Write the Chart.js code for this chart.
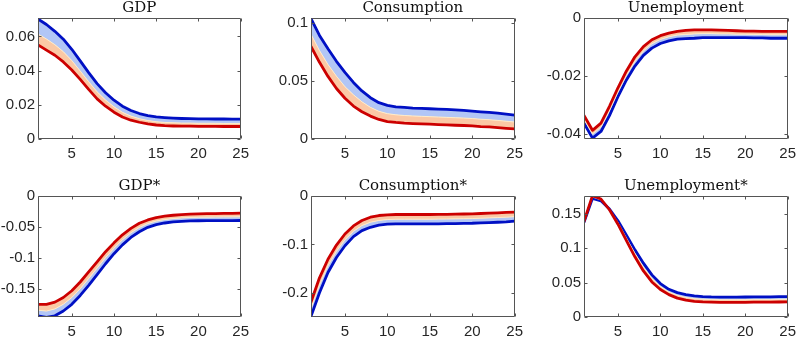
<!DOCTYPE html>
<html>
<head>
<meta charset="utf-8">
<script src="https://cdn.jsdelivr.net/npm/chart.js@4.4.0/dist/chart.umd.min.js"></script>
<style>
  html, body { margin: 0; padding: 0; background: #fff; overflow: hidden; }
  #wrap { position: relative; width: 800px; height: 337px; overflow: hidden; }
  .panel { position: absolute; }
</style>
</head>
<body>
<div id="wrap"></div>
<script>
// HORIZON AND TICKS
const horizon = [1,2,3,4,5,6,7,8,9,10,11,12,13,14,15,16,17,18,19,20,21,22,23,24,25];
const xTicks = [5,10,15,20,25];

// GDP
const gdpRed  = [0.0551,0.0520,0.0490,0.0451,0.0404,0.0349,0.0290,0.0235,0.0192,0.0157,0.0129,0.0110,0.0098,0.0088,0.0082,0.0078,0.0076,0.0075,0.0075,0.0074,0.0074,0.0074,0.0073,0.0073,0.0073];
const gdpMid  = [0.0614,0.0585,0.0552,0.0511,0.0459,0.0398,0.0335,0.0276,0.0228,0.0188,0.0156,0.0134,0.0119,0.0108,0.0101,0.0097,0.0095,0.0093,0.0093,0.0092,0.0092,0.0092,0.0091,0.0091,0.0091];
const gdpBlue = [0.0702,0.0670,0.0630,0.0584,0.0525,0.0457,0.0388,0.0324,0.0271,0.0227,0.0192,0.0167,0.0149,0.0137,0.0129,0.0125,0.0122,0.0120,0.0119,0.0118,0.0118,0.0117,0.0117,0.0116,0.0116];
const gdpTicks = [0,0.02,0.04,0.06];

// CONSUMPTION
const consRed  = [0.0795,0.0659,0.0538,0.0434,0.0350,0.0283,0.0234,0.0197,0.0168,0.0150,0.0142,0.0136,0.0133,0.0130,0.0127,0.0124,0.0121,0.0118,0.0116,0.0113,0.0107,0.0104,0.0098,0.0092,0.0087];
const consMid  = [0.0900,0.0760,0.0640,0.0540,0.0450,0.0380,0.0320,0.0272,0.0238,0.0218,0.0208,0.0202,0.0198,0.0195,0.0192,0.0189,0.0186,0.0183,0.0180,0.0176,0.0170,0.0166,0.0160,0.0153,0.0146];
const consBlue = [0.1035,0.0890,0.0775,0.0668,0.0572,0.0486,0.0413,0.0355,0.0312,0.0289,0.0277,0.0272,0.0266,0.0263,0.0260,0.0257,0.0254,0.0251,0.0246,0.0240,0.0234,0.0228,0.0223,0.0214,0.0205];
const consTicks = [0,0.05,0.1];

// UNEMPLOYMENT
const unRed  = [-0.0337,-0.0388,-0.0363,-0.0305,-0.0241,-0.0183,-0.0134,-0.0099,-0.0075,-0.0061,-0.0052,-0.0046,-0.0043,-0.0041,-0.0041,-0.0041,-0.0042,-0.0043,-0.0044,-0.0045,-0.0045,-0.0046,-0.0046,-0.0046,-0.0046];
const unMid  = [-0.0350,-0.0401,-0.0377,-0.0320,-0.0256,-0.0198,-0.0150,-0.0114,-0.0089,-0.0074,-0.0065,-0.0059,-0.0057,-0.0055,-0.0054,-0.0054,-0.0055,-0.0055,-0.0056,-0.0056,-0.0057,-0.0057,-0.0058,-0.0058,-0.0058];
const unBlue = [-0.0363,-0.0415,-0.0392,-0.0337,-0.0272,-0.0214,-0.0166,-0.0129,-0.0104,-0.0088,-0.0079,-0.0073,-0.0071,-0.0070,-0.0068,-0.0068,-0.0068,-0.0068,-0.0068,-0.0068,-0.0069,-0.0069,-0.0070,-0.0070,-0.0070];
const unTicks = [-0.04,-0.02,0];

// GDP*
const gdpsRed  = [-0.1745,-0.1745,-0.1710,-0.1636,-0.1527,-0.1386,-0.1223,-0.1060,-0.0897,-0.0755,-0.0625,-0.0522,-0.0440,-0.0386,-0.0348,-0.0326,-0.0310,-0.0299,-0.0293,-0.0288,-0.0285,-0.0283,-0.0281,-0.0279,-0.0277];
const gdpsMid  = [-0.1840,-0.1855,-0.1820,-0.1745,-0.1636,-0.1495,-0.1330,-0.1162,-0.0993,-0.0842,-0.0705,-0.0594,-0.0507,-0.0444,-0.0404,-0.0380,-0.0364,-0.0353,-0.0347,-0.0343,-0.0341,-0.0340,-0.0338,-0.0337,-0.0336];
const gdpsBlue = [-0.1930,-0.1957,-0.1930,-0.1853,-0.1745,-0.1603,-0.1440,-0.1266,-0.1092,-0.0930,-0.0788,-0.0668,-0.0576,-0.0505,-0.0462,-0.0435,-0.0418,-0.0408,-0.0402,-0.0399,-0.0397,-0.0397,-0.0396,-0.0396,-0.0395];
const gdpsTicks = [-0.15,-0.1,-0.05,0];

// CONSUMPTION*
const conssRed  = [-0.2190,-0.1690,-0.1306,-0.1014,-0.0785,-0.0618,-0.0507,-0.0438,-0.0403,-0.0389,-0.0382,-0.0382,-0.0382,-0.0382,-0.0382,-0.0380,-0.0378,-0.0375,-0.0372,-0.0368,-0.0362,-0.0354,-0.0347,-0.0340,-0.0333];
const conssMid  = [-0.2330,-0.1840,-0.1440,-0.1140,-0.0905,-0.0730,-0.0612,-0.0543,-0.0505,-0.0487,-0.0480,-0.0479,-0.0479,-0.0479,-0.0479,-0.0477,-0.0475,-0.0472,-0.0469,-0.0466,-0.0459,-0.0452,-0.0445,-0.0438,-0.0427];
const conssBlue = [-0.2486,-0.2000,-0.1580,-0.1270,-0.1028,-0.0840,-0.0715,-0.0646,-0.0604,-0.0583,-0.0576,-0.0576,-0.0576,-0.0576,-0.0576,-0.0575,-0.0572,-0.0570,-0.0566,-0.0563,-0.0556,-0.0549,-0.0542,-0.0535,-0.0521];
const conssTicks = [-0.2,-0.1,0];

// UNEMPLOYMENT*
const unsRed  = [0.1390,0.1765,0.1716,0.1560,0.1350,0.1110,0.0875,0.0670,0.0510,0.0400,0.0325,0.0275,0.0245,0.0228,0.0219,0.0215,0.0213,0.0213,0.0213,0.0214,0.0215,0.0216,0.0217,0.0218,0.0219];
const unsMid  = [0.1383,0.1745,0.1703,0.1565,0.1375,0.1150,0.0926,0.0726,0.0561,0.0443,0.0364,0.0315,0.0285,0.0267,0.0258,0.0253,0.0251,0.0251,0.0251,0.0252,0.0253,0.0254,0.0255,0.0256,0.0258];
const unsBlue = [0.1376,0.1726,0.1690,0.1570,0.1400,0.1190,0.0977,0.0783,0.0613,0.0486,0.0403,0.0355,0.0326,0.0306,0.0297,0.0292,0.0290,0.0290,0.0290,0.0291,0.0292,0.0293,0.0294,0.0295,0.0297];
const unsTicks = [0,0.05,0.1,0.15];

const RED = '#cc0000';
const BLUE = '#0010c4';
const AXIS = '#262626';

// panel list: title, series, y range, grid cell
const panels = [
  { title: 'GDP',           red: gdpRed,   mid: gdpMid,   blue: gdpBlue,   min: 0,      max: 0.0708, ticks: gdpTicks,   col: 0, row: 0 },
  { title: 'Consumption',   red: consRed,  mid: consMid,  blue: consBlue,  min: 0,      max: 0.104,  ticks: consTicks,  col: 1, row: 0 },
  { title: 'Unemployment',  red: unRed,    mid: unMid,    blue: unBlue,    min: -0.0418,max: 0,      ticks: unTicks,    col: 2, row: 0 },
  { title: 'GDP*',          red: gdpsRed,  mid: gdpsMid,  blue: gdpsBlue,  min: -0.195, max: 0,      ticks: gdpsTicks,  col: 0, row: 1 },
  { title: 'Consumption*',  red: conssRed, mid: conssMid, blue: conssBlue, min: -0.25,  max: 0,      ticks: conssTicks, col: 1, row: 1 },
  { title: 'Unemployment*', red: unsRed,   mid: unsMid,   blue: unsBlue,   min: 0,      max: 0.176,  ticks: unsTicks,   col: 2, row: 1 },
];

const colLeft = [38, 311, 584];
const colWidth = [207, 208, 208];
const rowTop = [19, 197];
const plotH = 120;
const yAxisW = 38, titleH = 19, xAxisH = 20, padR = 10;

// box with inward ticks, matlab style
const boxPlugin = {
  id: 'box',
  afterDraw(chart) {
    const { ctx, chartArea: a, scales } = chart;
    const x = scales.x, y = scales.y;
    const L = Math.round(a.left) + 0.5, R = Math.round(a.right) - 0.5;
    const T = Math.round(a.top) + 0.5, B = Math.round(a.bottom) - 0.5;
    ctx.save();
    ctx.strokeStyle = '#555';
    ctx.lineWidth = 1;
    ctx.beginPath();
    ctx.rect(L, T, R - L, B - T);
    x.ticks.forEach(t => {
      const px = Math.round(x.getPixelForValue(t.value)) + 0.5;
      ctx.moveTo(px, B); ctx.lineTo(px, B - 3);
      ctx.moveTo(px, T); ctx.lineTo(px, T + 3);
    });
    y.ticks.forEach(t => {
      const py = Math.round(y.getPixelForValue(t.value)) + 0.5;
      ctx.moveTo(L, py); ctx.lineTo(L + 3, py);
      ctx.moveTo(R, py); ctx.lineTo(R - 3, py);
    });
    ctx.stroke();
    ctx.restore();
  }
};

function toPoints(arr) {
  return arr.map((v, i) => ({ x: horizon[i], y: v }));
}

const wrap = document.getElementById('wrap');

panels.forEach(p => {
  const div = document.createElement('div');
  div.className = 'panel';
  const w = yAxisW + colWidth[p.col] + padR;
  const h = titleH + plotH + xAxisH;
  div.style.left = (colLeft[p.col] - yAxisW) + 'px';
  div.style.top = (rowTop[p.row] - titleH) + 'px';
  div.style.width = w + 'px';
  div.style.height = h + 'px';
  const canvas = document.createElement('canvas');
  canvas.width = w;
  canvas.height = h;
  div.appendChild(canvas);
  wrap.appendChild(div);

  new Chart(canvas.getContext('2d'), {
    type: 'line',
    data: {
      datasets: [
        {
          data: toPoints(p.red),
          borderColor: RED,
          borderWidth: 2.8,
          fill: false,
        },
        {
          data: toPoints(p.mid),
          borderColor: 'rgb(255,236,200)',
          borderWidth: 1,
          backgroundColor: 'rgb(251,200,165)',
          fill: '-1',
        },
        {
          data: toPoints(p.blue),
          borderColor: BLUE,
          borderWidth: 2.8,
          backgroundColor: 'rgb(178,198,246)',
          fill: '-1',
        },
      ],
    },
    options: {
      responsive: false,
      animation: false,
      events: [],
      elements: { point: { radius: 0 }, line: { tension: 0, borderCapStyle: 'round', borderJoinStyle: 'round' } },
      layout: { padding: { left: 0, right: padR, top: 0, bottom: 0 } },
      plugins: {
        legend: { display: false },
        tooltip: { enabled: false },
        filler: { drawTime: 'beforeDatasetsDraw' },
        title: {
          display: true,
          text: p.title,
          fullSize: false,
          color: '#111',
          font: { family: 'DejaVu Serif', size: 15, weight: 'normal', lineHeight: 1 },
          padding: { top: 1, bottom: 2 },
        },
      },
      scales: {
        x: {
          type: 'linear',
          min: 1,
          max: 25,
          afterBuildTicks: s => { s.ticks = xTicks.map(v => ({ value: v })); },
          afterFit: s => { s.height = xAxisH; },
          grid: { display: false, drawTicks: false },
          border: { display: false },
          ticks: {
            padding: 6,
            color: AXIS,
            maxRotation: 0,
            autoSkip: false,
            font: { family: 'Liberation Sans', size: 15 },
          },
        },
        y: {
          min: p.min,
          max: p.max,
          afterBuildTicks: s => { s.ticks = p.ticks.map(v => ({ value: v })); },
          afterFit: s => { s.width = yAxisW; },
          grid: { display: false, drawTicks: false },
          border: { display: false },
          ticks: {
            padding: 3,
            color: AXIS,
            autoSkip: false,
            callback: v => String(v),
            font: { family: 'Liberation Sans', size: 15 },
          },
        },
      },
    },
    plugins: [boxPlugin],
  });
});
</script>
</body>
</html>
